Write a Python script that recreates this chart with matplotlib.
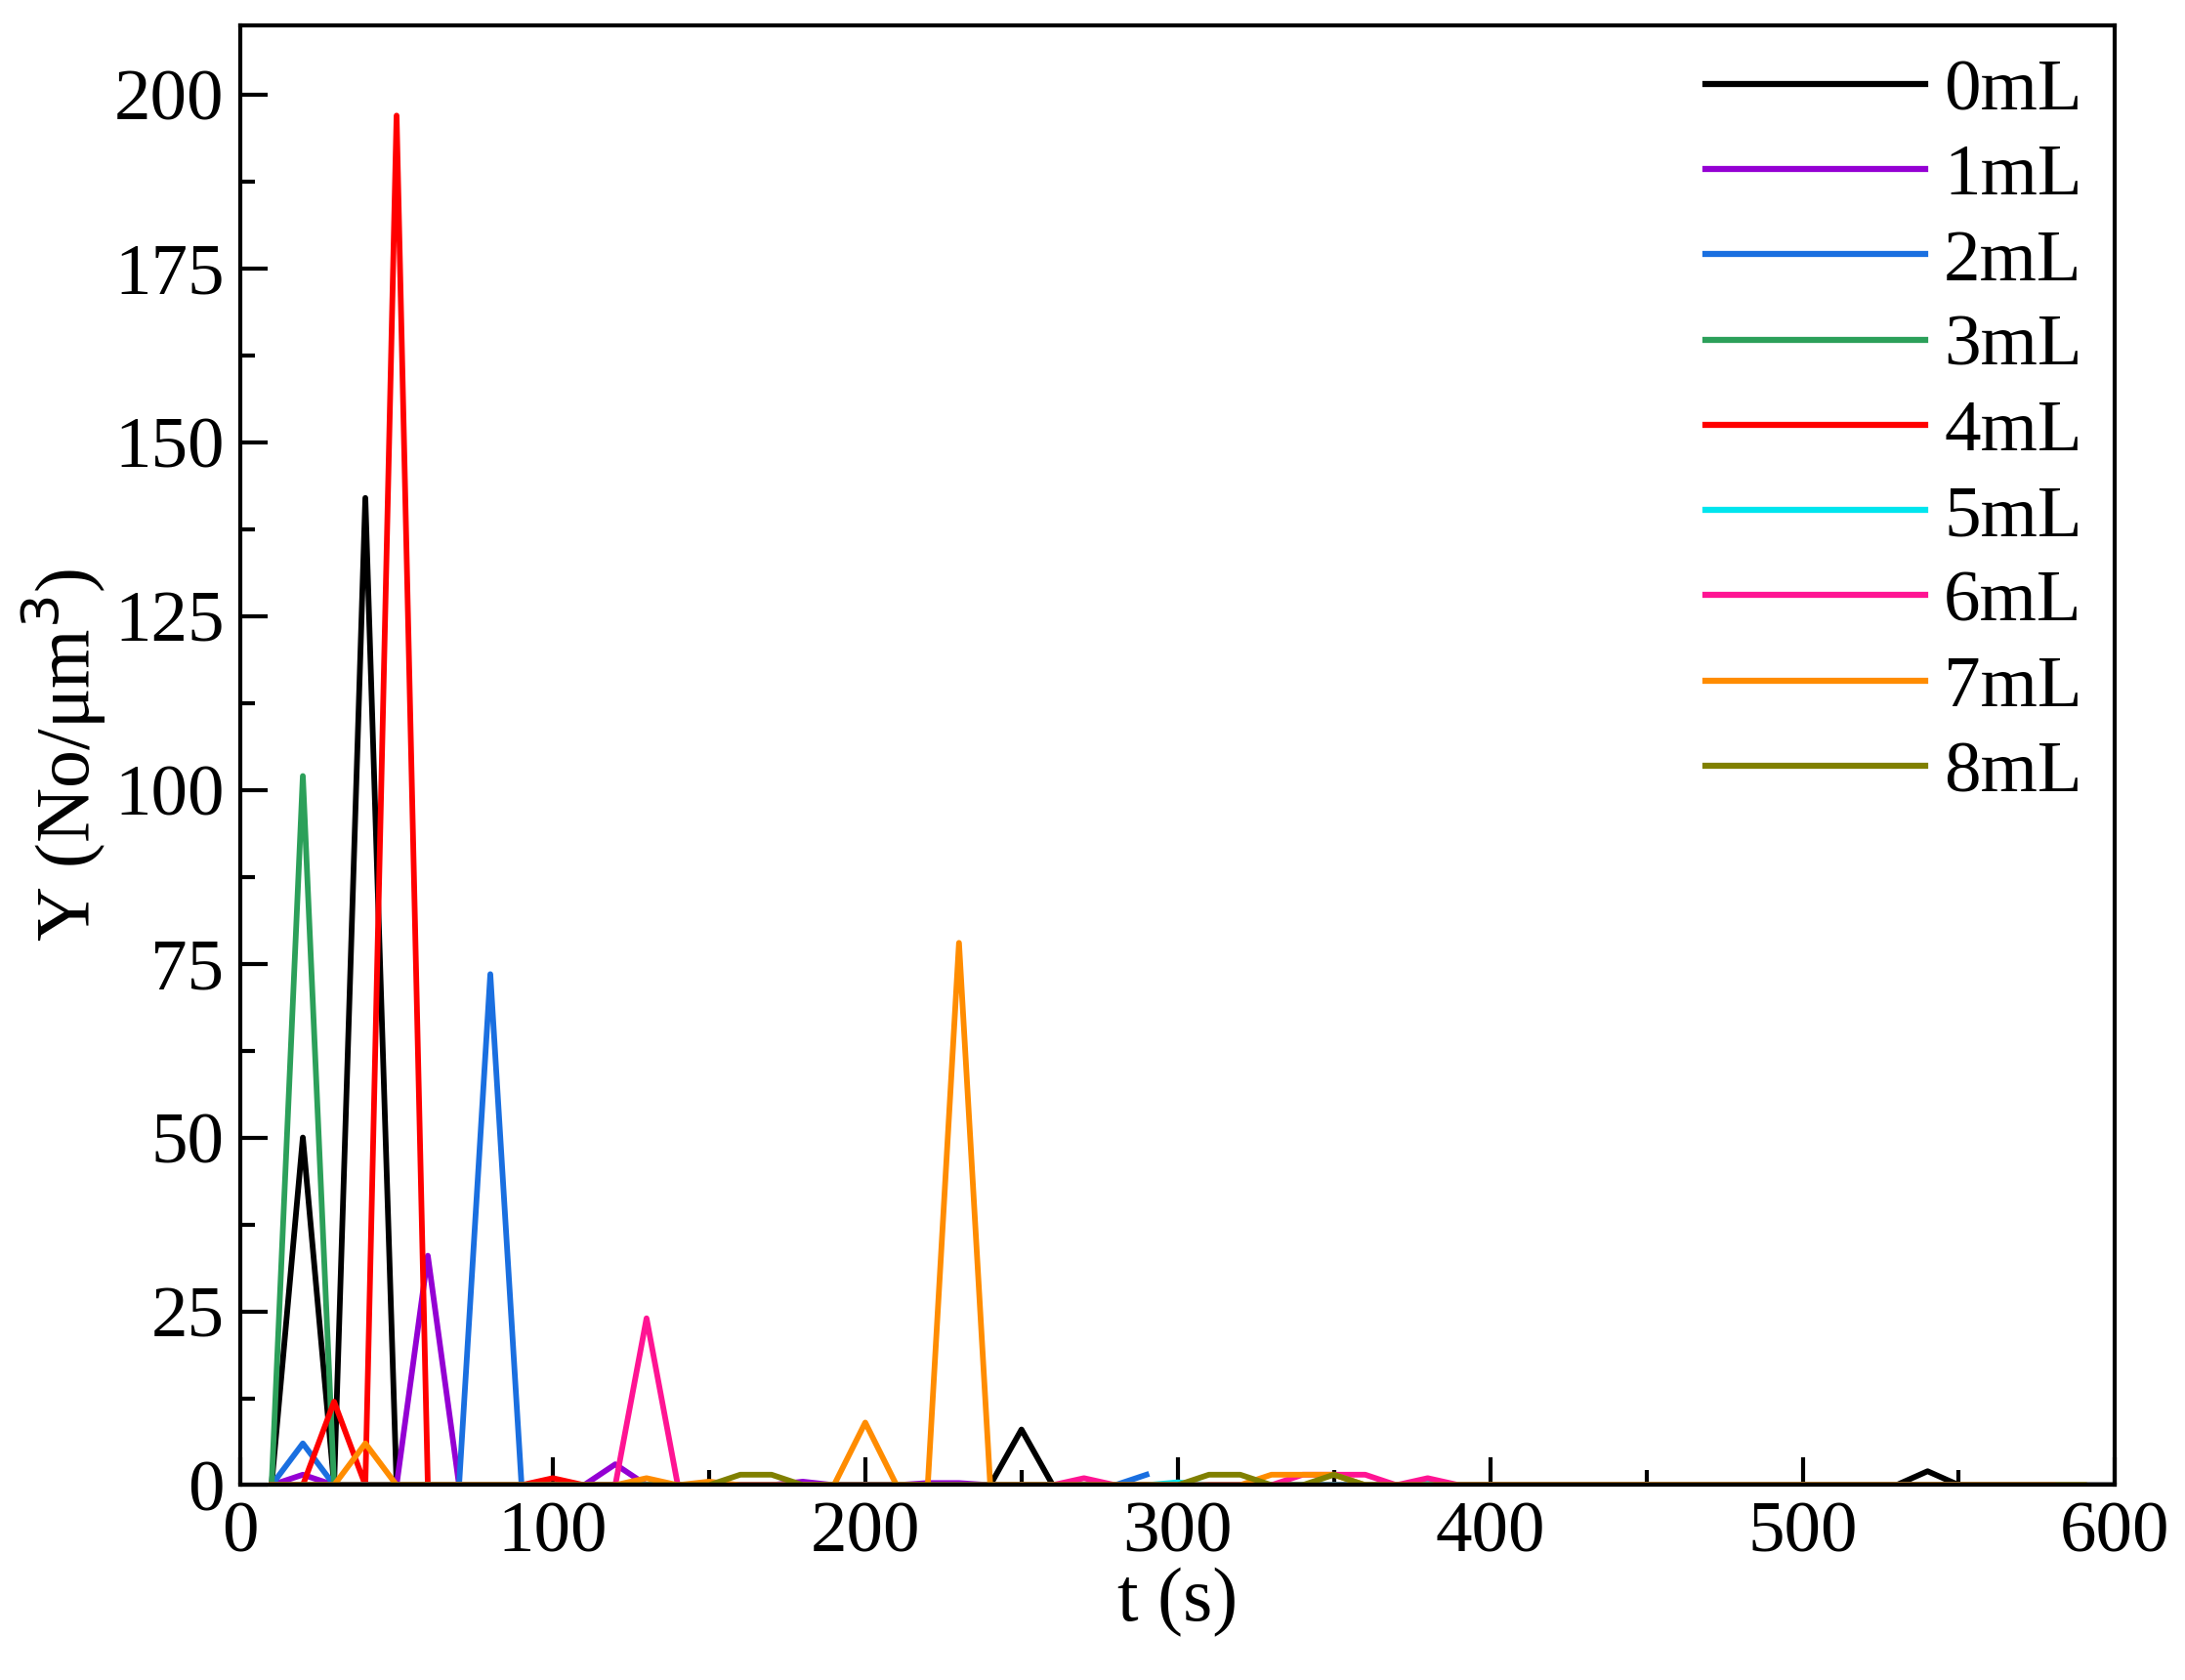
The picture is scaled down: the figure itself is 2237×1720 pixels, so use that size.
import matplotlib
matplotlib.use("Agg")
import matplotlib.pyplot as plt
from matplotlib.ticker import MultipleLocator

t = [10, 20, 30, 40, 50, 60, 70, 80, 90, 100, 110, 120, 130, 140, 150, 160, 170, 180, 190, 200,
     210, 220, 230, 240, 250, 260, 270, 280, 290, 300, 310, 320, 330, 340, 350, 360, 370, 380, 390, 400,
     410, 420, 430, 440, 450, 460, 470, 480, 490, 500, 510, 520, 530, 540, 550, 560, 570, 580, 590, 600]

y0 = [0, 50, 0, 142, 0, 0, 0, 0, 0, 0, 0, 0, 0, 0, 0, 0, 0, 0, 0, 0,
      0, 0, 0, 0, 8, 0, 0, 0, 0, 0, 0, 0, 0, 0, 0, 0, 0, 0, 0, 0,
      0, 0, 0, 0, 0, 0, 0, 0, 0, 0, 0, 0, 0, 2, 0, 0, 0, 0, 0, 0]
y1 = [0, 1.5, 0, 0, 0, 33, 0, 0, 0, 0, 0, 3, 0, 0, 0, 0, 0, 0.5, 0, 0,
      0, 0.3, 0.3, 0, 0, 0, 0, 0, 0, 0, 0, 0, 0, 0, 0, 0, 0, 0, 0, 0,
      0, 0, 0, 0, 0, 0, 0, 0, 0, 0, 0, 0, 0, 0, 0, 0, 0, 0, 0]
y2 = [0, 6, 0, 0, 0, 0, 0, 73.5, 0, 0, 0, 0, 0, 0, 0, 0, 0, 0, 0, 0,
      0, 0, 0, 0, 0, 0, 0, 0, 1.5]
y3 = [0, 102, 0, 0, 0, 0, 0, 0, 0, 0, 0, 0, 0, 0, 0, 0, 0, 0, 0, 0,
      0, 0, 0, 0, 0, 0, 0, 0, 0, 0, 0, 0, 0, 0, 0, 0, 0, 0, 0, 0,
      0, 0, 0, 0, 0, 0, 0, 0, 0, 0, 0, 0, 0, 0, 0, 0, 0, 0, 0]
y4 = [0, 0, 12, 0, 197, 0, 0, 0, 0, 1, 0, 0, 0, 0, 0, 0, 0, 0, 0, 0,
      0, 0, 0, 0, 0, 0, 0, 0, 0, 0, 0, 0, 0, 0, 0, 0, 0, 0, 0, 0,
      0, 0, 0, 0, 0, 0, 0, 0, 0, 0, 0, 0, 0, 0, 0, 0, 0, 0, 0]
y5 = [0, 0, 0, 0, 0, 0, 0, 0, 0, 0, 0, 0, 0, 0, 0, 0, 0, 0, 0, 0,
      0, 0, 0, 0, 0, 0, 0, 0, 0, 0.4, 0, 0, 0, 0, 0, 0, 0, 0.4, 0, 0,
      0, 0, 0, 0, 0, 0, 0, 0, 0, 0, 0, 0, 0, 0, 0, 0, 0, 0, 0]
y6 = [0, 0, 0, 0, 0, 0, 0, 0, 0, 0, 0, 0, 24, 0, 0, 0, 0, 0, 0, 0,
      0, 0, 0, 0, 0, 0, 1, 0, 0, 0, 0, 0, 0, 1.5, 1.5, 1.5, 0, 1, 0, 0,
      0, 0, 0, 0, 0, 0, 0, 0, 0, 0, 0, 0, 0, 0, 0, 0, 0, 0]
y7 = [0, 0, 0, 6, 0, 0, 0, 0, 0, 0, 0, 0, 1, 0, 0.5, 0, 0, 0, 0, 9,
      0, 0, 78, 0, 0, 0, 0, 0, 0, 0, 0, 0, 1.5, 1.5, 1.5, 0, 0, 0, 0, 0,
      0, 0, 0, 0, 0, 0, 0, 0, 0, 0, 0, 0, 0, 0, 0, 0, 0, 0, 0]
y8 = [0, 0, 0, 0, 0, 0, 0, 0, 0, 0, 0, 0, 0, 0, 0, 1.5, 1.5, 0, 0, 0,
      0, 0, 0, 0, 0, 0, 0, 0, 0, 0, 1.5, 1.5, 0, 0, 1.5, 0, 0, 0, 0, 0,
      0, 0, 0, 0, 0, 0, 0, 0, 0, 0, 0, 0, 0, 0, 0, 0, 0, 0, 0]

labels = ["0mL", "1mL", "2mL", "3mL", "4mL", "5mL", "6mL", "7mL", "8mL"]
colors = ["#000000", "#9400D3", "#1A6FE0", "#2CA05A", "#FF0000", "#00E5EE", "#FF1493", "#FF8C00", "#808000"]
series = [y0, y1, y2, y3, y4, y5, y6, y7, y8]

plt.rcParams['font.family'] = ['Liberation Serif', 'DejaVu Serif']
fig = plt.figure(figsize=(22.37, 17.2), dpi=100)
ax = fig.add_axes([0.110, 0.116, 0.858, 0.869])
for ys, c, lab in zip(series, colors, labels):
    ax.plot(t[:len(ys)], ys, color=c, lw=4.2, label=lab)

ax.set_xlim(0, 600)
ax.set_ylim(0, 210)
ax.xaxis.set_major_locator(MultipleLocator(100))
ax.xaxis.set_minor_locator(MultipleLocator(50))
ax.yaxis.set_major_locator(MultipleLocator(25))
ax.yaxis.set_minor_locator(MultipleLocator(12.5))
ax.tick_params(which='both', direction='in', width=3, labelsize=54, pad=12)
ax.tick_params(which='major', length=20)
ax.tick_params(which='minor', length=11)
for s in ax.spines.values():
    s.set_linewidth(3)
ax.set_xlabel("t (s)", fontsize=56, labelpad=0)
ax.set_ylabel("Y (No/μm$^3$)", fontsize=56, labelpad=4)
leg = ax.legend(loc='upper right', frameon=False, fontsize=54, handlelength=3.0,
                handletextpad=0.25, labelspacing=0.25, borderaxespad=0.05)
for h in leg.get_lines():
    h.set_linewidth(4.5)
fig.savefig("out.png", dpi=100)
